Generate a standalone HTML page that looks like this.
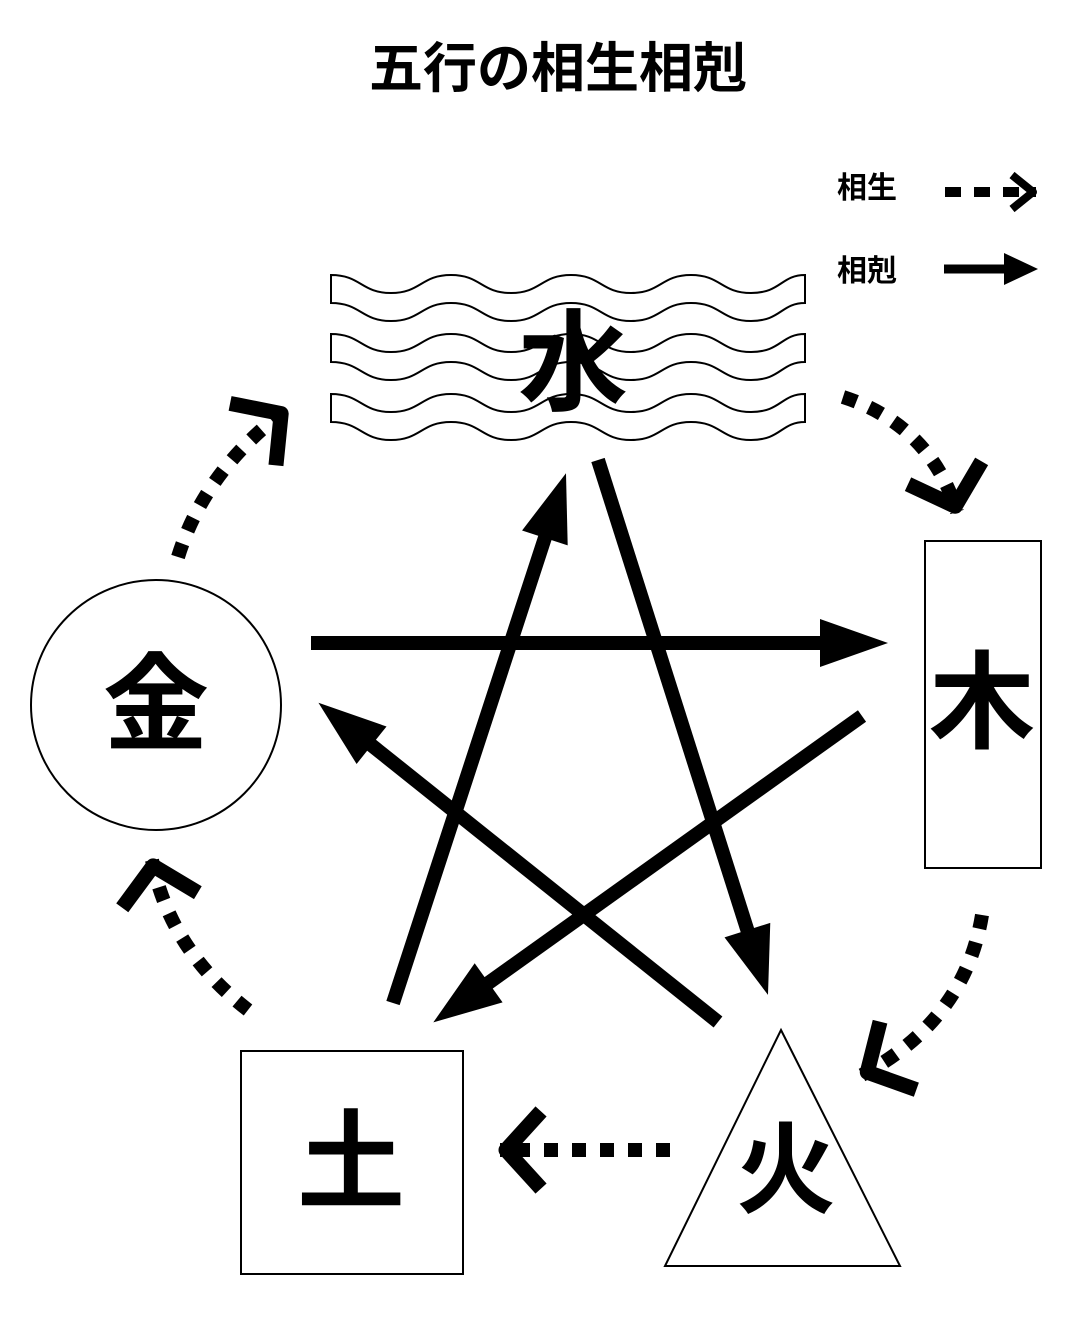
<!DOCTYPE html>
<html><head><meta charset="utf-8"><style>
html,body{margin:0;padding:0;background:#fff}
svg{display:block}
text{font-family:"Liberation Sans","Noto Sans CJK JP",sans-serif;font-weight:bold;fill:#000}
</style></head><body>
<svg width="1086" height="1321" viewBox="0 0 1086 1321" xmlns="http://www.w3.org/2000/svg">
<defs>
<marker id="tri" markerUnits="userSpaceOnUse" orient="auto" markerWidth="10" markerHeight="10" refX="0" refY="0" overflow="visible">
<path d="M66,0 L-2,-24 L-2,24 Z" fill="#000"/>
</marker>
<marker id="chev" markerUnits="userSpaceOnUse" orient="auto" markerWidth="10" markerHeight="10" refX="0" refY="0" overflow="visible">
<path d="M-36,-33 L-6,0 L-36,33" fill="none" stroke="#000" stroke-width="15" stroke-linejoin="round" stroke-linecap="square"/>
</marker>
<marker id="chevs" markerUnits="userSpaceOnUse" orient="auto" markerWidth="10" markerHeight="10" refX="0" refY="0" overflow="visible">
<path d="M-24,-17 L-3,0 L-24,17" fill="none" stroke="#000" stroke-width="8" stroke-linejoin="round"/>
</marker>
<marker id="tris" markerUnits="userSpaceOnUse" orient="auto" markerWidth="10" markerHeight="10" refX="0" refY="0" overflow="visible">
<path d="M33,0 L-1,-16 L-1,16 Z" fill="#000"/>
</marker>
</defs>

<text x="558" y="87" font-size="54" text-anchor="middle">五行の相生相剋</text>

<!-- legend -->
<text x="837" y="198" font-size="30">相生</text>
<line x1="945" y1="192" x2="1036" y2="192" stroke="#000" stroke-width="10" stroke-dasharray="16 13" marker-end="url(#chevs)"/>
<text x="837" y="281" font-size="30">相剋</text>
<line x1="944" y1="269" x2="1005" y2="269" stroke="#000" stroke-width="9" marker-end="url(#tris)"/>

<!-- water waves -->
<g fill="#fff" stroke="#000" stroke-width="2">
<path d="M331,275 C361,275 361,293 391,293 C421,293 421,275 451,275 C481,275 481,293 511,293 C541,293 541,275 571,275 C601,275 601,293 631,293 C661,293 661,275 691,275 C721,275 721,293 751,293 C781,293 781,275 805,275 L805,303 C781,303 781,321 751,321 C721,321 721,303 691,303 C661,303 661,321 631,321 C601,321 601,303 571,303 C541,303 541,321 511,321 C481,321 481,303 451,303 C421,303 421,321 391,321 C361,321 361,303 331,303 Z"/>
<path transform="translate(0,59)" d="M331,275 C361,275 361,293 391,293 C421,293 421,275 451,275 C481,275 481,293 511,293 C541,293 541,275 571,275 C601,275 601,293 631,293 C661,293 661,275 691,275 C721,275 721,293 751,293 C781,293 781,275 805,275 L805,303 C781,303 781,321 751,321 C721,321 721,303 691,303 C661,303 661,321 631,321 C601,321 601,303 571,303 C541,303 541,321 511,321 C481,321 481,303 451,303 C421,303 421,321 391,321 C361,321 361,303 331,303 Z"/>
<path transform="translate(0,119)" d="M331,275 C361,275 361,293 391,293 C421,293 421,275 451,275 C481,275 481,293 511,293 C541,293 541,275 571,275 C601,275 601,293 631,293 C661,293 661,275 691,275 C721,275 721,293 751,293 C781,293 781,275 805,275 L805,303 C781,303 781,321 751,321 C721,321 721,303 691,303 C661,303 661,321 631,321 C601,321 601,303 571,303 C541,303 541,321 511,321 C481,321 481,303 451,303 C421,303 421,321 391,321 C361,321 361,303 331,303 Z"/>
</g>
<text x="573" y="402" font-size="110" text-anchor="middle">水</text>

<!-- shapes -->
<circle cx="156" cy="705" r="125" fill="#fff" stroke="#000" stroke-width="2"/>
<text x="156" y="742" font-size="106" text-anchor="middle">金</text>
<rect x="925" y="541" width="116" height="327" fill="#fff" stroke="#000" stroke-width="2"/>
<text x="982" y="740" font-size="106" text-anchor="middle">木</text>
<rect x="241" y="1051" width="222" height="223" fill="#fff" stroke="#000" stroke-width="2"/>
<text x="351" y="1200" font-size="108" text-anchor="middle">土</text>
<path d="M781,1030 L900,1266 L665,1266 Z" fill="#fff" stroke="#000" stroke-width="2"/>
<text x="786" y="1205" font-size="100" text-anchor="middle">火</text>

<!-- solid arrows (相剋) -->
<g stroke="#000" stroke-width="14" fill="none">
<line x1="311" y1="643" x2="822" y2="643" marker-end="url(#tri)"/>
<line x1="598" y1="460" x2="748" y2="932" marker-end="url(#tri)"/>
<line x1="718" y1="1022" x2="370" y2="744" marker-end="url(#tri)"/>
<line x1="862" y1="716" x2="487" y2="984" marker-end="url(#tri)"/>
<line x1="393" y1="1003" x2="545.5" y2="536" marker-end="url(#tri)"/>
</g>

<!-- dotted arrows (相生) -->
<g stroke="#000" stroke-width="14" fill="none" stroke-dasharray="14 14">
<path d="M178,557 Q205,470 286,410" marker-end="url(#chev)"/>
<path d="M843,397 Q930,425 957,512" marker-end="url(#chev)"/>
<path d="M982,915 Q965,1020 862,1075" marker-end="url(#chev)"/>
<path d="M670,1150 L500,1150" marker-end="url(#chev)"/>
<path d="M248,1010 Q170,950 152,860" marker-end="url(#chev)"/>
</g>
</svg>
</body></html>
